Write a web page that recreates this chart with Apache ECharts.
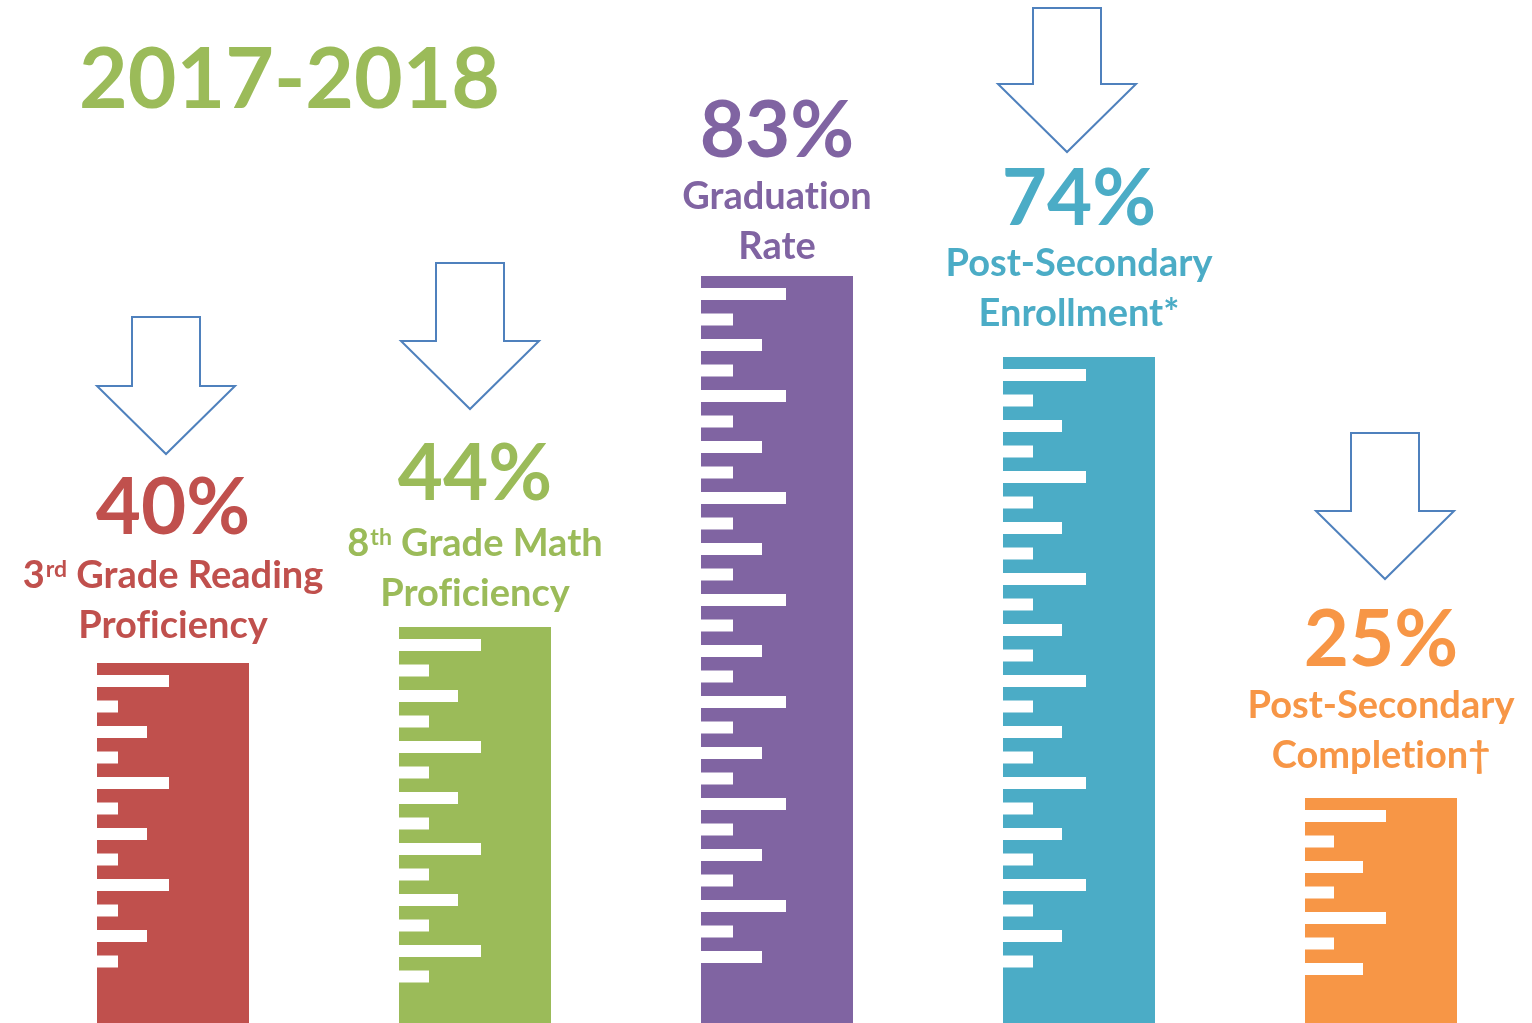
<!DOCTYPE html>
<html>
<head>
<meta charset="utf-8">
<script src="https://cdn.jsdelivr.net/npm/echarts@6/dist/echarts.min.js"></script>
<style>
  html, body { margin: 0; padding: 0; background: #fff; }
  #chart { width: 1532px; height: 1023px; }
</style>
</head>
<body>
<div id="chart"></div>
<script>
// chart data
const yearTitle = "2017-2018"
const categories = [
    "3rd Grade Reading\nProficiency",
    "8th Grade Math\nProficiency",
    "Graduation\nRate",
    "Post-Secondary\nEnrollment*",
    "Post-Secondary\nCompletion†"
]
const values = [40, 44, 83, 74, 25]
const hasArrow = [true, true, false, true, true]

// styling
const colors = ["#C0504D", "#9BBB59", "#8064A2", "#4BACC6", "#F79646"]
const tickLens = [[72, 21, 50, 21], [82, 30, 59, 30], [85, 32, 61, 32], [83, 30, 59, 30], [81, 29, 58, 29]]
const labelGap = [12, 8, 4, 18, 17]
const pctLineH = [84, 88, 80, 78, 80]
const arrowShift = [-7, -5, 0, -12, 4]
const arrowLift = [209, 218, 0, 205, 219]
const arrowShaft = [69, 78, 0, 76, 78]
const FONT = "Lato"

let chart = echarts.init(document.getElementById("chart"))

// "3rd" -> 3 + superscript rd; break the fi / ti ligatures of Lato
function richLabel(text) {
    return text.split("\n").map(function (line) {
        line = line.replace(/([ft])(?=i)/g, "$1\u200C")
        line = line.replace(/^(\d)(st|nd|rd|th)(.*)$/, "$1}{s|$2}{c|$3")
        return "{c|" + line + "}"
    }).join("\n")
}

let barData = values.map(function (v, i) {
    return {
        value: v,
        itemStyle: { color: colors[i] },
        label: {
            color: colors[i],
            distance: labelGap[i],
            rich: {
                p: { color: colors[i], fontFamily: FONT, fontWeight: "bold", fontSize: 78, lineHeight: pctLineH[i] },
                c: { color: colors[i], fontFamily: FONT, fontWeight: "bold", fontSize: 38, lineHeight: 50 },
                s: { color: colors[i], fontFamily: FONT, fontWeight: "bold", fontSize: 23, lineHeight: 23,
                     verticalAlign: "top", padding: [7, 0, 0, 1] }
            }
        }
    }
})

// white ruler ticks + outlined arrows, placed from the bar's own coords
function renderRuler(params, api) {
    let i = params.dataIndex
    let top = api.coord([i, api.value(1)])
    let base = api.coord([i, 0])
    let left = top[0] - 76
    let children = []
    let lens = tickLens[i]
    let k = 0
    for (let y = top[1] + 12; y + 12 <= base[1] - 38; y += 25.5) {
        children.push({
            type: "rect",
            shape: { x: left, y: y, width: lens[k % 4], height: 12 },
            style: { fill: "#fff" }
        })
        k++
    }
    if (hasArrow[i]) {
        let tx = top[0] + arrowShift[i]
        let ty = top[1] - arrowLift[i]
        let sh = ty - 68
        let st = sh - arrowShaft[i]
        children.push({
            type: "polygon",
            shape: {
                points: [
                    [tx - 34, st], [tx + 34, st], [tx + 34, sh],
                    [tx + 69, sh], [tx, ty], [tx - 69, sh], [tx - 34, sh]
                ]
            },
            style: { fill: "#fff", stroke: "#4F81BD", lineWidth: 2 }
        })
    }
    return { type: "group", children: children }
}

let option = {
    backgroundColor: "#fff",
    animation: false,
    title: {
        text: yearTitle,
        left: 74,
        top: 34,
        textStyle: { color: "#9BBB59", fontFamily: FONT, fontWeight: "bold", fontSize: 84 }
    },
    grid: { left: 22, width: 1511, top: 123, bottom: 0 },
    xAxis: {
        type: "category",
        data: categories,
        show: false
    },
    yAxis: {
        type: "value",
        min: 0,
        max: 100,
        show: false
    },
    series: [
        {
            type: "bar",
            data: barData,
            barWidth: 152,
            label: {
                show: true,
                position: "top",
                align: "center",
                formatter: function (p) {
                    return "{p|" + p.value + "%}\n" + richLabel(categories[p.dataIndex])
                }
            }
        },
        {
            type: "custom",
            renderItem: renderRuler,
            data: values.map(function (v, i) { return [i, v] }),
            encode: { x: 0, y: 1 },
            z: 3
        }
    ]
}
chart.setOption(option)
</script>
</body>
</html>
